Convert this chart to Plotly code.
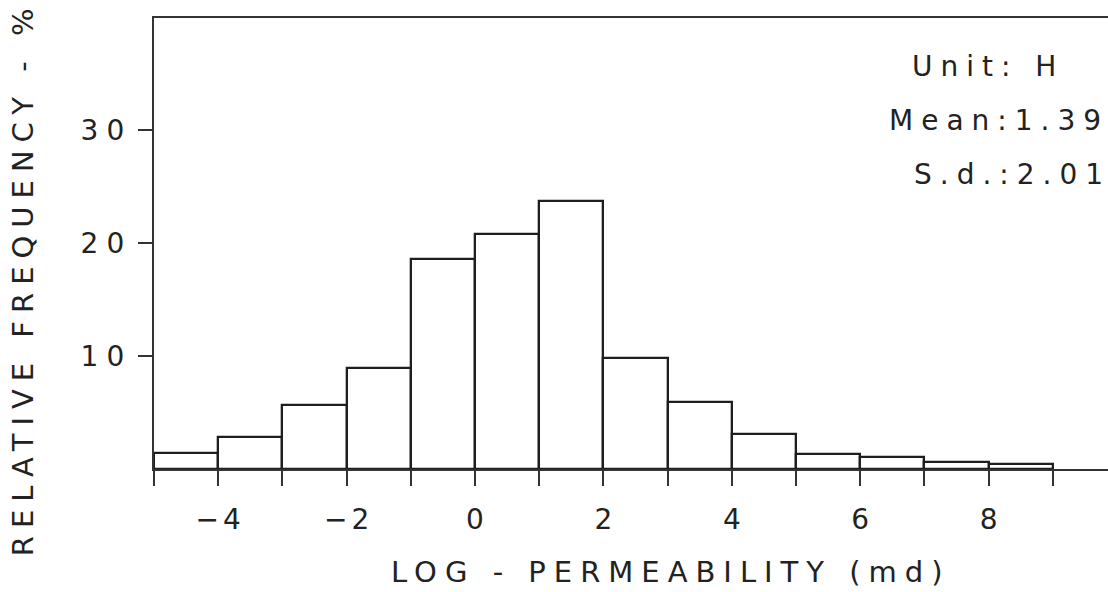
import plotly.graph_objects as go

# Data
bin_left = [-5, -4, -3, -2, -1, 0, 1, 2, 3, 4, 5, 6, 7, 8]
rel_freq = [1.4, 2.8, 5.7, 8.9, 18.6, 20.8, 23.7, 9.8, 5.9, 3.1, 1.3, 1.1, 0.65, 0.4]
x_tick_vals = [-4, -2, 0, 2, 4, 6, 8]
x_tick_text = ["\u22124", "\u22122", "0", "2", "4", "6", "8"]
y_tick_vals = [10, 20, 30]
y_tick_text = ["10", "20", "30"]
stats_lines = ["Unit: H", "Mean:1.39", "S.d.:2.01"]

FONT = "DejaVu Sans"
INK = "#222222"
LS = "8px"


def sp(t, ls=LS):
    # letter-spacing on all but the last character (no trailing gap)
    if len(t) < 2:
        return t
    return f'<span style="letter-spacing:{ls}">{t[:-1]}</span>{t[-1]}'


centers = [b + 0.5 for b in bin_left]

fig = go.Figure()
fig.add_trace(go.Bar(
    x=centers, y=rel_freq, width=1.0,
    marker=dict(color="white", line=dict(color="#1e1e1e", width=2.3)),
    hoverinfo="skip", showlegend=False,
))

fig.update_layout(
    width=1108, height=592,
    margin=dict(l=154, r=0, t=18, b=123),
    paper_bgcolor="white", plot_bgcolor="white",
    font=dict(family=FONT, size=28, color=INK),
    bargap=0,
    xaxis=dict(
        range=[-5, 9.86], showgrid=False, zeroline=False,
        showline=True, linecolor="#333333", linewidth=2.3, mirror=True,
        tickmode="array", tickvals=x_tick_vals,
        ticktext=[sp(t, "4px") for t in x_tick_text],
        ticks="outside", ticklen=15, tickwidth=2, tickcolor="#333333",
        ticklabelstandoff=9,
        tickfont=dict(family=FONT, size=28, color=INK),
        minor=dict(dtick=1, tick0=0, ticks="outside", ticklen=15,
                   tickwidth=2, tickcolor="#333333", showgrid=False),
    ),
    yaxis=dict(
        range=[0, 39.9], showgrid=False, zeroline=False,
        showline=True, linecolor="#333333", linewidth=2.3, mirror=False,
        tickmode="array", tickvals=y_tick_vals,
        ticktext=[f'<span style="letter-spacing:{LS}">{t}</span>' for t in y_tick_text],
        ticks="outside", ticklen=14, tickwidth=2, tickcolor="#333333",
        tickfont=dict(family=FONT, size=28, color=INK),
    ),
)

ann_pos = [(0.870, 0.892), (0.882, 0.773), (0.896, 0.654)]
for txt, (ax, ay) in zip(stats_lines, ann_pos):
    fig.add_annotation(text=sp(txt), xref="paper", yref="paper", x=ax, y=ay,
                       xanchor="center", yanchor="middle", showarrow=False,
                       font=dict(family=FONT, size=28, color=INK))

fig.add_annotation(text=sp("LOG - PERMEABILITY (md)"), xref="paper", yref="paper",
                   x=0.538, y=-0.228, xanchor="center", yanchor="middle",
                   showarrow=False, font=dict(family=FONT, size=29, color=INK))
fig.add_annotation(text=sp("RELATIVE FREQUENCY - %"), xref="paper", yref="paper",
                   x=-0.138, y=0.415, xanchor="center", yanchor="middle",
                   textangle=-90, showarrow=False,
                   font=dict(family=FONT, size=29, color=INK))

fig.write_html("out.html")
